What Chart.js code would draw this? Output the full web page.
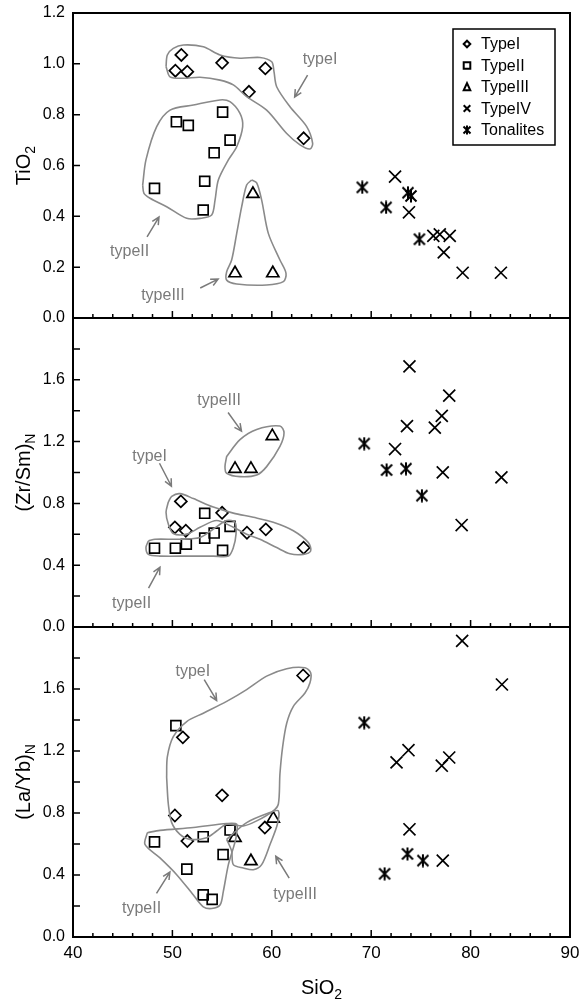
<!DOCTYPE html>
<html>
<head>
<meta charset="utf-8">
<script src="https://cdn.jsdelivr.net/npm/chart.js@4/dist/chart.umd.min.js"></script>
<style>
  body { margin: 0; background: #fff; }
  #wrap { position: relative; width: 581px; height: 1005px; }
  #wrap canvas { position: absolute; left: 0; }
</style>
</head>
<body>
<div id="wrap">
  <canvas id="c1" width="581" height="330" style="top:0"></canvas>
  <canvas id="c2" width="581" height="325" style="top:310px"></canvas>
  <canvas id="c3" width="581" height="386" style="top:619px"></canvas>
</div>
<script>
const FONT = '"Liberation Sans", Arial, Helvetica, sans-serif';

// x axis (SiO2)
const xMin = 40, xMax = 90;

// --- TiO2 panel ---
const tiTypeI = [[50.9, 1.035], [50.3, 0.973], [51.5, 0.969], [55.0, 1.004], [57.7, 0.89], [59.35, 0.982], [63.2, 0.707]];
const tiTypeII = [[48.2, 0.51], [50.4, 0.772], [51.6, 0.758], [55.05, 0.81], [55.8, 0.70], [54.2, 0.65], [53.25, 0.538], [53.1, 0.425]];
const tiTypeIII = [[58.1, 0.488], [56.3, 0.176], [60.1, 0.176]];
const tiTypeIV = [[72.4, 0.556], [73.8, 0.416], [76.25, 0.323], [76.9, 0.329], [77.9, 0.323], [77.3, 0.258], [79.2, 0.178], [83.05, 0.178]];
const tiTonalites = [[69.1, 0.514], [71.5, 0.435], [73.7, 0.493], [74.0, 0.48], [74.85, 0.31]];

const tiHullI = [[49.36, 0.989], [49.49, 1.035], [50.09, 1.061], [51.1, 1.074], [53.11, 1.067], [54.79, 1.035], [56.8, 1.022], [58.81, 1.025], [59.99, 1.008], [60.22, 0.969], [60.49, 0.91], [61.83, 0.831], [63.51, 0.753], [64.11, 0.687], [63.84, 0.665], [62.84, 0.681], [61.5, 0.726], [59.48, 0.818], [57.47, 0.871], [56.13, 0.917], [54.79, 0.936], [52.78, 0.947], [51.1, 0.943], [49.76, 0.949]];
const tiHullII = [[47.01, 0.523], [47.34, 0.622], [48.42, 0.753], [49.76, 0.818], [52.11, 0.838], [54.79, 0.858], [55.79, 0.851], [56.8, 0.805], [57.07, 0.753], [56.47, 0.674], [55.63, 0.622], [54.62, 0.543], [54.29, 0.464], [53.95, 0.405], [52.78, 0.392], [51.44, 0.392], [49.42, 0.438], [47.75, 0.471], [47.14, 0.49]];
const tiHullIII = [[57.97, 0.543], [58.48, 0.532], [58.98, 0.464], [59.65, 0.333], [60.82, 0.228], [61.43, 0.176], [61.16, 0.143], [59.48, 0.13], [56.47, 0.134], [55.46, 0.149], [55.46, 0.182], [55.96, 0.228], [56.47, 0.333], [56.97, 0.438], [57.47, 0.523]];

// label, text x, text y, arrow from x, y, arrow to x, y
const tiNotes = [
  ['typeI', 64.85, 1.015, 63.6, 0.956, 62.3, 0.869],
  ['typeII', 45.7, 0.26, 47.45, 0.319, 48.65, 0.397],
  ['typeIII', 49.05, 0.09, 52.8, 0.118, 54.6, 0.153]
];

// --- (Zr/Sm)N panel ---
const zrTypeI = [[50.85, 0.813], [50.25, 0.645], [51.35, 0.623], [55.0, 0.739], [57.5, 0.61], [59.4, 0.632], [63.2, 0.513]];
const zrTypeII = [[48.2, 0.51], [50.3, 0.51], [51.4, 0.536], [53.25, 0.736], [53.25, 0.575], [54.2, 0.608], [55.8, 0.651], [55.05, 0.496]];
const zrTypeIII = [[56.3, 1.023], [57.9, 1.023], [60.05, 1.235]];
const zrTypeIV = [[73.85, 1.687], [77.85, 1.497], [77.1, 1.366], [73.6, 1.30], [76.4, 1.29], [72.4, 1.152], [77.2, 1.001], [83.1, 0.968], [79.1, 0.66]];
const zrTonalites = [[69.3, 1.187], [71.55, 1.016], [73.5, 1.025], [75.1, 0.85]];

const zrHullI = [[49.59, 0.809], [49.93, 0.846], [50.76, 0.863], [52.11, 0.831], [54.12, 0.776], [56.13, 0.737], [58.14, 0.71], [60.15, 0.678], [62.17, 0.623], [63.68, 0.546], [63.91, 0.492], [63.17, 0.47], [61.83, 0.474], [60.49, 0.514], [58.81, 0.568], [57.47, 0.601], [56.13, 0.645], [54.45, 0.689], [52.78, 0.645], [51.44, 0.601], [50.09, 0.605], [49.59, 0.667], [49.36, 0.743]];
const zrHullII = [[47.58, 0.557], [48.25, 0.568], [50.76, 0.568], [52.78, 0.579], [54.12, 0.634], [55.46, 0.689], [56.3, 0.678], [56.4, 0.601], [56.13, 0.514], [55.63, 0.459], [54.12, 0.459], [51.77, 0.459], [48.75, 0.459], [47.58, 0.47], [47.34, 0.514]];
const zrHullIII = [[55.46, 1.104], [56.8, 1.213], [58.48, 1.279], [60.82, 1.301], [61.23, 1.257], [60.82, 1.169], [59.48, 1.038], [58.48, 0.984], [56.8, 0.973], [55.46, 0.995], [55.29, 1.038]];

const zrNotes = [
  ['typeIII', 54.7, 1.464, 55.6, 1.388, 56.95, 1.268],
  ['typeI', 47.7, 1.104, 48.7, 1.06, 49.9, 0.911],
  ['typeII', 45.9, 0.153, 47.6, 0.251, 48.75, 0.387]
];

// --- (La/Yb)N panel ---
const laTypeI = [[63.15, 1.687], [51.05, 1.288], [55.0, 0.914], [50.25, 0.784], [51.5, 0.619], [59.3, 0.706]];
const laTypeII = [[50.35, 1.364], [48.2, 0.614], [53.1, 0.647], [55.8, 0.69], [55.1, 0.532], [51.45, 0.438], [53.1, 0.272], [54.0, 0.243]];
const laTypeIII = [[60.15, 0.764], [56.3, 0.64], [57.9, 0.489]];
const laTypeIV = [[79.15, 1.911], [83.15, 1.629], [73.75, 1.205], [72.55, 1.127], [77.85, 1.158], [77.1, 1.105], [73.85, 0.695], [77.2, 0.493]];
const laTonalites = [[69.3, 1.383], [73.65, 0.536], [75.2, 0.493], [71.35, 0.408]];

const laHullI = [[49.42, 1.031], [49.49, 1.162], [50.09, 1.292], [51.44, 1.39], [53.11, 1.444], [55.46, 1.52], [57.47, 1.596], [59.48, 1.683], [61.5, 1.731], [63.34, 1.737], [63.91, 1.705], [63.84, 1.64], [63.34, 1.574], [62.17, 1.488], [61.5, 1.379], [61.09, 1.227], [60.82, 1.053], [60.66, 0.858], [60.15, 0.814], [58.48, 0.749], [57.14, 0.717], [55.46, 0.727], [54.45, 0.684], [53.45, 0.641], [51.77, 0.63], [50.76, 0.662], [49.93, 0.738], [49.59, 0.858]];
const laHullII = [[47.48, 0.673], [48.75, 0.688], [52.11, 0.706], [55.46, 0.732], [56.47, 0.727], [56.4, 0.641], [56.13, 0.575], [55.63, 0.467], [55.12, 0.293], [54.79, 0.206], [53.95, 0.184], [53.11, 0.195], [52.11, 0.271], [50.43, 0.402], [48.75, 0.51], [47.24, 0.597]];
const laHullIII = [[55.46, 0.63], [57.47, 0.738], [59.82, 0.803], [60.66, 0.814], [60.56, 0.727], [59.82, 0.597], [58.98, 0.467], [58.14, 0.434], [57.14, 0.445], [56.13, 0.467], [55.96, 0.554]];

const laNotes = [
  ['typeI', 52.05, 1.715, 53.2, 1.661, 54.45, 1.526],
  ['typeII', 46.9, 0.184, 48.4, 0.282, 49.75, 0.419],
  ['typeIII', 62.35, 0.272, 61.75, 0.38, 60.4, 0.521]
];

const legendLabels = ['TypeI', 'TypeII', 'TypeIII', 'TypeIV', 'Tonalites'];

function pts(arr) { return arr.map(p => ({x: p[0], y: p[1]})); }

function makeAsterisk(size, lw) {
  const c = document.createElement('canvas');
  c.width = size; c.height = size;
  const g = c.getContext('2d');
  g.strokeStyle = '#000'; g.lineWidth = lw;
  const a = 1.5, b = size - 1.5;
  g.beginPath();
  g.moveTo(a, a); g.lineTo(b, b);
  g.moveTo(b, a); g.lineTo(a, b);
  g.moveTo(size / 2, a - 1); g.lineTo(size / 2, b + 1);
  g.stroke();
  return c;
}
const asterisk = makeAsterisk(14, 2);

function hull(arr) {
  return {
    data: pts(arr.concat([arr[0]])),
    showLine: true, borderColor: '#8a8a8a', borderWidth: 1.6,
    pointRadius: 0, tension: 0.3, fill: false
  };
}

function marks(style, r, arr) {
  return {
    data: pts(arr), pointStyle: style, pointRadius: r,
    borderColor: '#000', backgroundColor: 'rgba(0,0,0,0)', pointBorderWidth: 1.7
  };
}

function arrow(ctx, x1, y1, x2, y2) {
  const ang = Math.atan2(y2 - y1, x2 - x1), h = 8;
  ctx.beginPath();
  ctx.moveTo(x1, y1); ctx.lineTo(x2, y2);
  ctx.moveTo(x2 - h * Math.cos(ang - 0.45), y2 - h * Math.sin(ang - 0.45));
  ctx.lineTo(x2, y2);
  ctx.lineTo(x2 - h * Math.cos(ang + 0.45), y2 - h * Math.sin(ang + 0.45));
  ctx.stroke();
}

function subText(ctx, main, sub, cx, cy, rot) {
  ctx.save();
  ctx.translate(cx, cy);
  if (rot) ctx.rotate(-Math.PI / 2);
  ctx.fillStyle = '#000';
  ctx.textAlign = 'left'; ctx.textBaseline = 'alphabetic';
  ctx.font = '20px ' + FONT; const w1 = ctx.measureText(main).width;
  ctx.font = '14px ' + FONT; const w2 = ctx.measureText(sub).width;
  const x0 = -(w1 + w2) / 2;
  ctx.font = '20px ' + FONT; ctx.fillText(main, x0, 7);
  ctx.font = '14px ' + FONT; ctx.fillText(sub, x0 + w1, 12);
  ctx.restore();
}

function drawLegend(ctx) {
  const left = 453, top = 29, w = 102, h = 116;
  ctx.save();
  ctx.fillStyle = '#fff'; ctx.fillRect(left, top, w, h);
  ctx.strokeStyle = '#000'; ctx.lineWidth = 1.5;
  ctx.strokeRect(left, top, w, h);
  ctx.lineWidth = 2;
  ctx.font = '16px ' + FONT; ctx.textBaseline = 'middle'; ctx.textAlign = 'left'; ctx.fillStyle = '#000';
  legendLabels.forEach((lab, i) => {
    const y = top + 15 + i * 21.5, x = 467, s = 3.3;
    ctx.beginPath();
    if (i === 0) { ctx.moveTo(x - s, y); ctx.lineTo(x, y - s); ctx.lineTo(x + s, y); ctx.lineTo(x, y + s); ctx.closePath(); }
    if (i === 1) { ctx.rect(x - s, y - s, 2 * s, 2 * s); }
    if (i === 2) { ctx.moveTo(x, y - s - 0.5); ctx.lineTo(x + s, y + s); ctx.lineTo(x - s, y + s); ctx.closePath(); }
    if (i === 3) { ctx.moveTo(x - s, y - s); ctx.lineTo(x + s, y + s); ctx.moveTo(x + s, y - s); ctx.lineTo(x - s, y + s); }
    ctx.stroke();
    if (i === 4) ctx.drawImage(makeAsterisk(10, 2), x - 5, y - 5);
    ctx.fillText(lab, 481, y + 1);
  });
  ctx.restore();
}

function makeDecor(cfg) {
  return {
    id: 'panelDecor',
    afterDatasetsDraw(chart) {
      const ctx = chart.ctx, a = chart.chartArea;
      const x = chart.scales.x, y = chart.scales.y;
      ctx.save();
      // annotations
      ctx.fillStyle = '#7a7a7a'; ctx.strokeStyle = '#7a7a7a'; ctx.lineWidth = 1.5;
      ctx.font = '16px ' + FONT; ctx.textAlign = 'center'; ctx.textBaseline = 'middle';
      cfg.notes.forEach(n => {
        ctx.fillText(n[0], x.getPixelForValue(n[1]), y.getPixelForValue(n[2]));
        arrow(ctx, x.getPixelForValue(n[3]), y.getPixelForValue(n[4]), x.getPixelForValue(n[5]), y.getPixelForValue(n[6]));
      });
      // frame
      ctx.strokeStyle = '#000'; ctx.lineWidth = 2;
      ctx.strokeRect(a.left, a.top, a.right - a.left, a.bottom - a.top);
      // inward ticks
      ctx.lineWidth = 1.5;
      ctx.beginPath();
      for (let s = xMin + 2; s < xMax; s += 2) {
        const px = x.getPixelForValue(s), len = s % 10 === 0 ? 7 : 4;
        ctx.moveTo(px, a.bottom); ctx.lineTo(px, a.bottom - len);
      }
      y.ticks.forEach(t => {
        const py = y.getPixelForValue(t.value);
        ctx.moveTo(a.left, py); ctx.lineTo(a.left + 7, py);
      });
      ctx.stroke();
      // titles
      subText(ctx, cfg.title[0], cfg.title[1], 23, (a.top + a.bottom) / 2, true);
      if (cfg.xTitle) subText(ctx, 'SiO', '2', (a.left + a.right) / 2, a.bottom + 50, false);
      if (cfg.legend) drawLegend(ctx);
      ctx.restore();
    }
  };
}

function panel(id, sets, cfg) {
  const datasets = [
    hull(sets.hulls[0]), hull(sets.hulls[1]), hull(sets.hulls[2]),
    marks('rectRot', 6, sets.t1),
    marks('rect', 7, sets.t2),
    marks('triangle', 7, sets.t3),
    marks('crossRot', 8.5, sets.t4),
    Object.assign(marks(asterisk, 7, sets.tn), {pointBorderWidth: 0})
  ];
  new Chart(document.getElementById(id), {
    type: 'scatter',
    data: {datasets: datasets},
    options: {
      responsive: false,
      animation: false,
      events: [],
      layout: {padding: cfg.padding, autoPadding: false},
      plugins: {legend: {display: false}, tooltip: {enabled: false}},
      scales: {
        x: {
          type: 'linear', min: xMin, max: xMax,
          display: cfg.showX,
          grid: {display: false, drawTicks: false},
          border: {display: false},
          ticks: {stepSize: 10, padding: 6, color: '#000', font: {family: FONT, size: 17}},
          afterFit: s => {
            s.height = cfg.showX ? 68 : 0;
            s.paddingLeft = 0; s.paddingRight = 0;
          }
        },
        y: {
          type: 'linear', min: 0, max: cfg.yMax,
          grid: {display: false, drawTicks: false},
          border: {display: false},
          ticks: {
            stepSize: 0.2, padding: 8, color: '#000', autoSkip: false,
            font: {family: FONT, size: 16},
            callback: v => {
              const k = Math.round(v / 0.2);
              if (cfg.yMax > 1.5 && (k % 2 !== 0 || k === 10)) return '';
              return (k * 0.2).toFixed(1);
            }
          },
          afterFit: s => {
            s.width = 73;
            s.paddingTop = 0; s.paddingBottom = 0;
          }
        }
      }
    },
    plugins: [makeDecor(cfg)]
  });
}

panel('c1',
  {t1: tiTypeI, t2: tiTypeII, t3: tiTypeIII, t4: tiTypeIV, tn: tiTonalites, hulls: [tiHullI, tiHullII, tiHullIII]},
  {yMax: 1.2, showX: false, padding: {top: 13, bottom: 12, left: 0, right: 11}, notes: tiNotes, title: ['TiO', '2'], legend: true});

panel('c2',
  {t1: zrTypeI, t2: zrTypeII, t3: zrTypeIII, t4: zrTypeIV, tn: zrTonalites, hulls: [zrHullI, zrHullII, zrHullIII]},
  {yMax: 2.0, showX: false, padding: {top: 8, bottom: 8, left: 0, right: 11}, notes: zrNotes, title: ['(Zr/Sm)', 'N']});

panel('c3',
  {t1: laTypeI, t2: laTypeII, t3: laTypeIII, t4: laTypeIV, tn: laTonalites, hulls: [laHullI, laHullII, laHullIII]},
  {yMax: 2.0, showX: true, padding: {top: 8, bottom: 0, left: 0, right: 11}, notes: laNotes, title: ['(La/Yb)', 'N'], xTitle: true});
</script>
</body>
</html>
